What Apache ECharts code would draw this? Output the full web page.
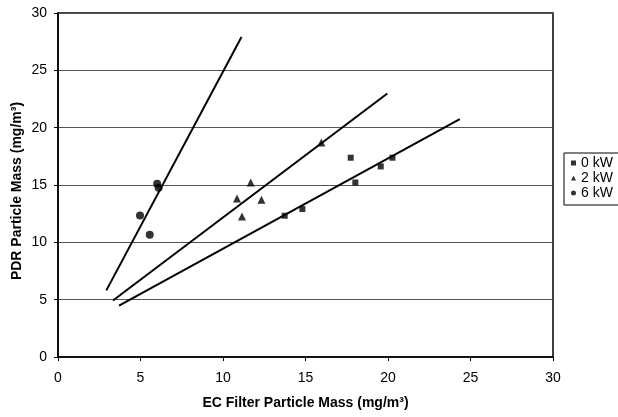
<!DOCTYPE html>
<html>
<head>
<meta charset="utf-8">
<script src="https://cdn.jsdelivr.net/npm/echarts@6/dist/echarts.min.js"></script>
<style>
  html, body { margin: 0; padding: 0; background: #fff; }
  #chart { width: 618px; height: 417px; }
</style>
</head>
<body>
<div id="chart"></div>
<script>
// measured points, EC filter mass (x) vs PDR mass (y)
const kw0 = [[13.74, 12.32], [14.81, 12.9], [17.74, 17.38], [18.02, 15.22], [19.56, 16.62], [20.27, 17.38]]
const kw2 = [[10.85, 13.83], [11.68, 15.22], [12.33, 13.71], [11.15, 12.26], [15.96, 18.71]]
const kw6 = [[4.97, 12.35], [5.56, 10.66], [6.01, 15.11], [6.1, 14.76]]

// fitted lines, start and end points
const fit0 = [[3.7, 4.47], [24.35, 20.75]]
const fit2 = [[3.33, 4.93], [19.96, 22.98]]
const fit6 = [[2.93, 5.81], [11.12, 27.9]]

const seriesNames = ["0 kW", "2 kW", "6 kW"]

let chart = echarts.init(document.getElementById("chart"))

const fontFam = "Liberation Sans, Arial, sans-serif"

function fitLine(data) {
  return {
    type: "line",
    data: data,
    symbol: "none",
    silent: true,
    lineStyle: { color: "#000", width: 2 },
    z: 3
  }
}

chart.setOption({
  animation: false,
  grid: {
    left: 58,
    right: 65,
    top: 13,
    bottom: 60,
    outerBoundsMode: "none",
    show: true,
    borderColor: "#000",
    borderWidth: 1.5
  },
  legend: {
    orient: "vertical",
    left: 564,
    top: 153,
    width: 60,
    padding: [3, 10, 5, 7],
    itemGap: 1,
    itemWidth: 5,
    itemHeight: 5,
    borderColor: "#000",
    borderWidth: 1,
    textStyle: { color: "#000", fontSize: 14, fontFamily: fontFam },
    data: [
      { name: seriesNames[0], icon: "rect" },
      { name: seriesNames[1], icon: "triangle" },
      { name: seriesNames[2], icon: "circle" }
    ]
  },
  xAxis: {
    type: "value",
    min: 0,
    max: 30,
    interval: 5,
    name: "EC Filter Particle Mass (mg/m³)",
    nameLocation: "middle",
    nameGap: 39,
    nameMoveOverlap: false,
    nameTextStyle: { color: "#000", fontSize: 14, fontWeight: "bold", fontFamily: fontFam },
    axisLine: { lineStyle: { color: "#000", width: 1.5 } },
    axisTick: { show: true, length: 4, lineStyle: { color: "#000" } },
    axisLabel: { color: "#000", fontSize: 14, fontFamily: fontFam, margin: 14 },
    splitLine: { show: false }
  },
  yAxis: {
    type: "value",
    min: 0,
    max: 30,
    interval: 5,
    name: "PDR Particle Mass (mg/m³)",
    nameLocation: "middle",
    nameGap: 34,
    nameMoveOverlap: false,
    nameTextStyle: { color: "#000", fontSize: 14, fontWeight: "bold", fontFamily: fontFam, padding: [0, 12, 0, 0] },
    axisLine: { lineStyle: { color: "#000", width: 1.5 } },
    axisTick: { show: true, length: 4, lineStyle: { color: "#000" } },
    axisLabel: { color: "#000", fontSize: 14, fontFamily: fontFam, margin: 11 },
    splitLine: { show: true, lineStyle: { color: "#555", width: 1 } }
  },
  series: [
    {
      name: seriesNames[0],
      type: "scatter",
      data: kw0,
      symbol: "rect",
      symbolSize: 6,
      itemStyle: { color: "#000" },
      z: 4
    },
    {
      name: seriesNames[1],
      type: "scatter",
      data: kw2,
      symbol: "triangle",
      symbolSize: 8,
      itemStyle: { color: "#000" },
      z: 4
    },
    {
      name: seriesNames[2],
      type: "scatter",
      data: kw6,
      symbol: "circle",
      symbolSize: 8,
      itemStyle: { color: "#000" },
      z: 4
    },
    fitLine(fit0),
    fitLine(fit2),
    fitLine(fit6)
  ]
})
</script>
</body>
</html>
